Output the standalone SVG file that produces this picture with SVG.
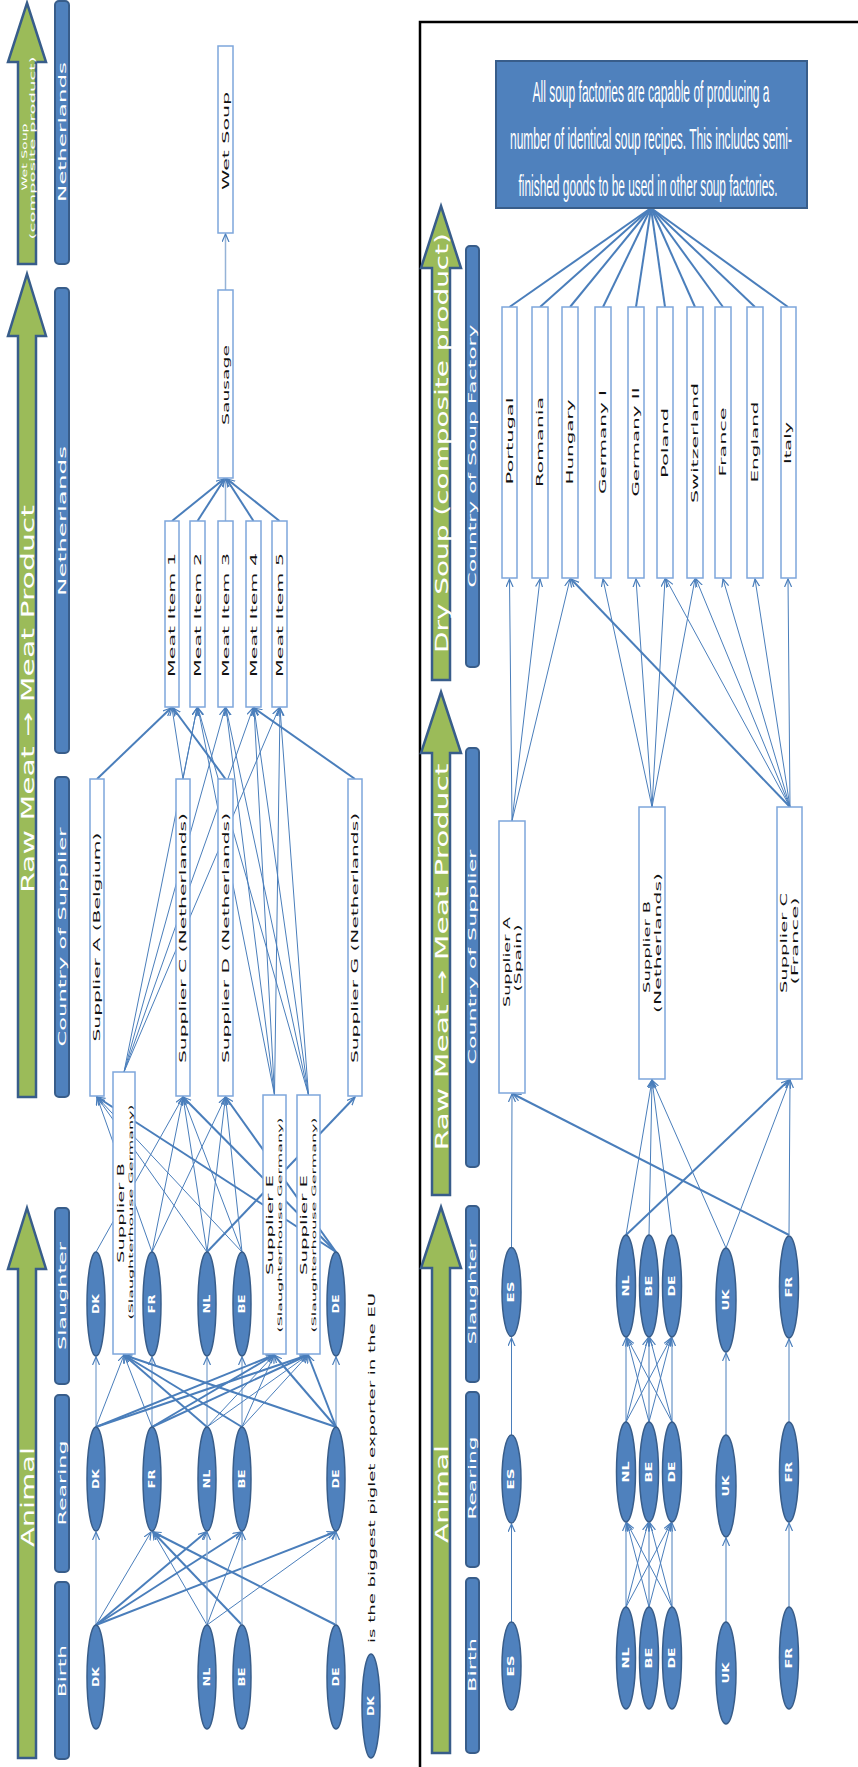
<svg xmlns="http://www.w3.org/2000/svg" width="858" height="1767" viewBox="0 0 858 1767">
<defs>
<marker id="ah" markerUnits="userSpaceOnUse" markerWidth="10" markerHeight="10" refX="8" refY="4" orient="auto"><path d="M0,0.5 L8,4 L0,7.5" fill="none" stroke="#4A7EBB" stroke-width="1.2"/></marker>
<style>
.bar{fill:#4F81BD;stroke:#385D8A;stroke-width:2}
.arr{fill:#9BBB59;stroke:#385D8A;stroke-width:2.5}
.box{fill:#fff;stroke:#7EA6DB;stroke-width:1.5}
.ell{fill:#4F81BD;stroke:#385D8A;stroke-width:1.5}
.wt{fill:#fff;font-family:"DejaVu Sans",sans-serif;font-weight:bold}
.wn{fill:#fff;font-family:"DejaVu Sans",sans-serif}
.bt{fill:#111;font-family:"DejaVu Sans",sans-serif}
.nt{fill:#fff;font-family:"Liberation Sans",sans-serif;font-size:11px}
.c1{stroke:#4A7EBB;stroke-width:1;fill:none;marker-end:url(#ah)}
.c2{stroke:#4A7EBB;stroke-width:2;fill:none;marker-end:url(#ah)}
.c0{stroke:#95B3D7;stroke-width:1.5;fill:none;marker-end:url(#ah)}
.cn{stroke:#4A7EBB;stroke-width:2;fill:none}
</style>
</defs>
<rect width="858" height="1767" fill="#fff"/>
<rect x="420" y="22" width="445" height="1760" fill="none" stroke="#000" stroke-width="2.5"/>

<g id="left-stages">
<path class="arr" d="M27,3 L46,62 L36,62 L36,264 L18,264 L18,62 L8,62 Z"/>
<text class="wn" font-size="7.5" transform="translate(24,157) rotate(-90)" text-anchor="middle" dominant-baseline="central" textLength="67" lengthAdjust="spacingAndGlyphs">Wet Soup</text>
<text class="wn" font-size="7.5" transform="translate(32.5,148) rotate(-90)" text-anchor="middle" dominant-baseline="central" textLength="183" lengthAdjust="spacingAndGlyphs">(composite product)</text>
<path class="arr" d="M27,274 L46,336 L36,336 L36,1097 L18,1097 L18,336 L8,336 Z"/>
<text class="wn" font-size="18" transform="translate(27,699) rotate(-90)" text-anchor="middle" dominant-baseline="central" textLength="388" lengthAdjust="spacingAndGlyphs">Raw Meat → Meat Product</text>
<path class="arr" d="M27,1208 L46,1269 L36,1269 L36,1758 L18,1758 L18,1269 L8,1269 Z"/>
<text class="wn" font-size="18" transform="translate(27,1497) rotate(-90)" text-anchor="middle" dominant-baseline="central" textLength="100" lengthAdjust="spacingAndGlyphs">Animal</text>
<rect class="bar" x="55" y="1" width="14" height="263" rx="4"/>
<text class="wn" font-size="11" transform="translate(62,132) rotate(-90)" text-anchor="middle" dominant-baseline="central" textLength="140" lengthAdjust="spacingAndGlyphs">Netherlands</text>
<rect class="bar" x="55" y="288" width="14" height="465" rx="4"/>
<text class="wn" font-size="11" transform="translate(62,521) rotate(-90)" text-anchor="middle" dominant-baseline="central" textLength="150" lengthAdjust="spacingAndGlyphs">Netherlands</text>
<rect class="bar" x="55" y="777" width="14" height="320" rx="4"/>
<text class="wn" font-size="11" transform="translate(62,937) rotate(-90)" text-anchor="middle" dominant-baseline="central" textLength="219" lengthAdjust="spacingAndGlyphs">Country of Supplier</text>
<rect class="bar" x="55" y="1208" width="14" height="176" rx="4"/>
<text class="wn" font-size="11" transform="translate(62,1296) rotate(-90)" text-anchor="middle" dominant-baseline="central" textLength="108" lengthAdjust="spacingAndGlyphs">Slaughter</text>
<rect class="bar" x="55" y="1395" width="14" height="177" rx="4"/>
<text class="wn" font-size="11" transform="translate(62,1483) rotate(-90)" text-anchor="middle" dominant-baseline="central" textLength="85" lengthAdjust="spacingAndGlyphs">Rearing</text>
<rect class="bar" x="55" y="1582" width="14" height="177" rx="4"/>
<text class="wn" font-size="11" transform="translate(62,1671) rotate(-90)" text-anchor="middle" dominant-baseline="central" textLength="52" lengthAdjust="spacingAndGlyphs">Birth</text>
</g>

<g id="left-connectors">
<line class="c0" x1="225.5" y1="290" x2="225.5" y2="234"/>
<line class="c2" x1="172" y1="521" x2="224" y2="479"/>
<line class="c2" x1="197.5" y1="521" x2="224.5" y2="479"/>
<line class="c0" x1="225.5" y1="521" x2="225.5" y2="479"/>
<line class="c2" x1="253.5" y1="521" x2="226.5" y2="479"/>
<line class="c2" x1="279.5" y1="521" x2="227" y2="479"/>
<line class="c2" x1="97" y1="779" x2="171" y2="708"/>
<line class="c2" x1="225.5" y1="779" x2="173" y2="708"/>
<line class="c2" x1="355" y1="779" x2="254" y2="708"/>
<line class="c1" x1="183" y1="779" x2="172" y2="708"/>
<line class="c1" x1="183" y1="779" x2="197" y2="708"/>
<line class="c1" x1="124" y1="1072" x2="197" y2="708"/>
<line class="c1" x1="124" y1="1072" x2="225" y2="708"/>
<line class="c1" x1="124" y1="1072" x2="253" y2="708"/>
<line class="c1" x1="124" y1="1072" x2="279" y2="708"/>
<line class="c1" x1="274.5" y1="1095" x2="198" y2="708"/>
<line class="c1" x1="274.5" y1="1095" x2="226" y2="708"/>
<line class="c1" x1="274.5" y1="1095" x2="254" y2="708"/>
<line class="c1" x1="274.5" y1="1095" x2="280" y2="708"/>
<line class="c1" x1="308.5" y1="1095" x2="198" y2="708"/>
<line class="c1" x1="308.5" y1="1095" x2="226" y2="708"/>
<line class="c1" x1="308.5" y1="1095" x2="254" y2="708"/>
<line class="c1" x1="308.5" y1="1095" x2="280" y2="708"/>
<line class="c1" x1="152" y1="1252" x2="97" y2="1097"/>
<line class="c1" x1="207" y1="1252" x2="97" y2="1097"/>
<line class="c1" x1="242" y1="1252" x2="97" y2="1097"/>
<line class="c2" x1="336" y1="1252" x2="97" y2="1097"/>
<line class="c1" x1="96" y1="1252" x2="183" y2="1097"/>
<line class="c1" x1="152" y1="1252" x2="183" y2="1097"/>
<line class="c1" x1="207" y1="1252" x2="183" y2="1097"/>
<line class="c1" x1="242" y1="1252" x2="183" y2="1097"/>
<line class="c2" x1="336" y1="1252" x2="183" y2="1097"/>
<line class="c1" x1="152" y1="1252" x2="225.5" y2="1097"/>
<line class="c1" x1="207" y1="1252" x2="225.5" y2="1097"/>
<line class="c1" x1="242" y1="1252" x2="225.5" y2="1097"/>
<line class="c2" x1="336" y1="1252" x2="225.5" y2="1097"/>
<line class="c2" x1="207" y1="1252" x2="355" y2="1097"/>
<line class="c0" x1="96" y1="1427" x2="96" y2="1357"/>
<line class="c0" x1="152" y1="1427" x2="152" y2="1357"/>
<line class="c0" x1="207" y1="1427" x2="207" y2="1357"/>
<line class="c0" x1="242" y1="1427" x2="242" y2="1357"/>
<line class="c0" x1="336" y1="1427" x2="336" y2="1357"/>
<line class="c1" x1="96" y1="1427" x2="124" y2="1355"/>
<line class="c1" x1="152" y1="1427" x2="124" y2="1355"/>
<line class="c2" x1="207" y1="1427" x2="124" y2="1355"/>
<line class="c2" x1="242" y1="1427" x2="124" y2="1355"/>
<line class="c2" x1="336" y1="1427" x2="124" y2="1355"/>
<line class="c2" x1="96" y1="1427" x2="274" y2="1355"/>
<line class="c2" x1="96" y1="1427" x2="308" y2="1355"/>
<line class="c2" x1="152" y1="1427" x2="274" y2="1355"/>
<line class="c2" x1="152" y1="1427" x2="308" y2="1355"/>
<line class="c1" x1="207" y1="1427" x2="274" y2="1355"/>
<line class="c1" x1="207" y1="1427" x2="308" y2="1355"/>
<line class="c1" x1="242" y1="1427" x2="274" y2="1355"/>
<line class="c1" x1="242" y1="1427" x2="308" y2="1355"/>
<line class="c2" x1="336" y1="1427" x2="274" y2="1355"/>
<line class="c2" x1="336" y1="1427" x2="308" y2="1355"/>
<line class="c0" x1="96" y1="1625" x2="96" y2="1532"/>
<line class="c1" x1="96" y1="1625" x2="151" y2="1532"/>
<line class="c2" x1="96" y1="1625" x2="206" y2="1532"/>
<line class="c2" x1="96" y1="1625" x2="241" y2="1532"/>
<line class="c2" x1="96" y1="1625" x2="335" y2="1532"/>
<line class="c1" x1="207" y1="1625" x2="153" y2="1532"/>
<line class="c0" x1="207" y1="1625" x2="207" y2="1532"/>
<line class="c1" x1="207" y1="1625" x2="242" y2="1532"/>
<line class="c1" x1="207" y1="1625" x2="336" y2="1532"/>
<line class="c2" x1="242" y1="1625" x2="153" y2="1532"/>
<line class="c0" x1="242" y1="1625" x2="242" y2="1532"/>
<line class="c2" x1="336" y1="1625" x2="153" y2="1532"/>
<line class="c0" x1="336" y1="1625" x2="336" y2="1532"/>
</g>

<g id="n-wetsoup"><rect class="box" x="218" y="46" width="15" height="187"/><text class="bt" font-size="8" transform="translate(226.5,141) rotate(-90)" text-anchor="middle" dominant-baseline="central" textLength="98" lengthAdjust="spacingAndGlyphs">Wet Soup</text></g>
<g id="n-sausage"><rect class="box" x="218" y="290" width="15" height="188"/><text class="bt" font-size="8" transform="translate(226.5,385) rotate(-90)" text-anchor="middle" dominant-baseline="central" textLength="80" lengthAdjust="spacingAndGlyphs">Sausage</text></g>
<g id="n-meat1"><rect class="box" x="165" y="521" width="14" height="186"/><text class="bt" font-size="8" transform="translate(172.5,615) rotate(-90)" text-anchor="middle" dominant-baseline="central" textLength="124" lengthAdjust="spacingAndGlyphs">Meat Item 1</text></g>
<g id="n-meat2"><rect class="box" x="190" y="521" width="15" height="186"/><text class="bt" font-size="8" transform="translate(198,615) rotate(-90)" text-anchor="middle" dominant-baseline="central" textLength="124" lengthAdjust="spacingAndGlyphs">Meat Item 2</text></g>
<g id="n-meat3"><rect class="box" x="218" y="521" width="15" height="186"/><text class="bt" font-size="8" transform="translate(226,615) rotate(-90)" text-anchor="middle" dominant-baseline="central" textLength="124" lengthAdjust="spacingAndGlyphs">Meat Item 3</text></g>
<g id="n-meat4"><rect class="box" x="246" y="521" width="15" height="186"/><text class="bt" font-size="8" transform="translate(254,615) rotate(-90)" text-anchor="middle" dominant-baseline="central" textLength="124" lengthAdjust="spacingAndGlyphs">Meat Item 4</text></g>
<g id="n-meat5"><rect class="box" x="272" y="521" width="15" height="186"/><text class="bt" font-size="8" transform="translate(280,615) rotate(-90)" text-anchor="middle" dominant-baseline="central" textLength="124" lengthAdjust="spacingAndGlyphs">Meat Item 5</text></g>
<g id="n-supA"><rect class="box" x="90" y="779" width="14" height="317"/><text class="bt" font-size="8" transform="translate(97.5,937) rotate(-90)" text-anchor="middle" dominant-baseline="central" textLength="209" lengthAdjust="spacingAndGlyphs">Supplier A (Belgium)</text></g>
<g id="n-supC"><rect class="box" x="176" y="779" width="14" height="317"/><text class="bt" font-size="8" transform="translate(183.5,938) rotate(-90)" text-anchor="middle" dominant-baseline="central" textLength="250" lengthAdjust="spacingAndGlyphs">Supplier C (Netherlands)</text></g>
<g id="n-supD"><rect class="box" x="218" y="779" width="15" height="317"/><text class="bt" font-size="8" transform="translate(226,938) rotate(-90)" text-anchor="middle" dominant-baseline="central" textLength="250" lengthAdjust="spacingAndGlyphs">Supplier D (Netherlands)</text></g>
<g id="n-supG"><rect class="box" x="348" y="779" width="14" height="317"/><text class="bt" font-size="8" transform="translate(355.5,938) rotate(-90)" text-anchor="middle" dominant-baseline="central" textLength="250" lengthAdjust="spacingAndGlyphs">Supplier G (Netherlands)</text></g>
<g id="n-supB"><rect class="box" x="113" y="1072" width="22" height="282"/><text class="bt" font-size="8" transform="translate(121.5,1213) rotate(-90)" text-anchor="middle" dominant-baseline="central" textLength="100" lengthAdjust="spacingAndGlyphs">Supplier B</text><text class="bt" font-size="6" transform="translate(130,1212) rotate(-90)" text-anchor="middle" dominant-baseline="central" textLength="215" lengthAdjust="spacingAndGlyphs">(Slaughterhouse Germany)</text></g>
<g id="n-supE1"><rect class="box" x="263" y="1095" width="23" height="259"/><text class="bt" font-size="8" transform="translate(270.5,1225) rotate(-90)" text-anchor="middle" dominant-baseline="central" textLength="100" lengthAdjust="spacingAndGlyphs">Supplier E</text><text class="bt" font-size="6" transform="translate(279,1225) rotate(-90)" text-anchor="middle" dominant-baseline="central" textLength="215" lengthAdjust="spacingAndGlyphs">(Slaughterhouse Germany)</text></g>
<g id="n-supE2"><rect class="box" x="297" y="1095" width="23" height="259"/><text class="bt" font-size="8" transform="translate(304.5,1225) rotate(-90)" text-anchor="middle" dominant-baseline="central" textLength="100" lengthAdjust="spacingAndGlyphs">Supplier E</text><text class="bt" font-size="6" transform="translate(313,1225) rotate(-90)" text-anchor="middle" dominant-baseline="central" textLength="215" lengthAdjust="spacingAndGlyphs">(Slaughterhouse Germany)</text></g>

<g id="n-sl-dk"><ellipse class="ell" cx="96" cy="1304" rx="9" ry="52"/><text class="wt" font-size="8" transform="translate(96,1304) rotate(-90)" text-anchor="middle" dominant-baseline="central" textLength="20" lengthAdjust="spacingAndGlyphs">DK</text></g>
<g id="n-sl-fr"><ellipse class="ell" cx="152" cy="1304" rx="9" ry="52"/><text class="wt" font-size="8" transform="translate(152,1304) rotate(-90)" text-anchor="middle" dominant-baseline="central" textLength="19" lengthAdjust="spacingAndGlyphs">FR</text></g>
<g id="n-sl-nl"><ellipse class="ell" cx="207" cy="1304" rx="9" ry="52"/><text class="wt" font-size="8" transform="translate(207,1304) rotate(-90)" text-anchor="middle" dominant-baseline="central" textLength="19" lengthAdjust="spacingAndGlyphs">NL</text></g>
<g id="n-sl-be"><ellipse class="ell" cx="242" cy="1304" rx="9" ry="52"/><text class="wt" font-size="8" transform="translate(242,1304) rotate(-90)" text-anchor="middle" dominant-baseline="central" textLength="19" lengthAdjust="spacingAndGlyphs">BE</text></g>
<g id="n-sl-de"><ellipse class="ell" cx="336" cy="1304" rx="9" ry="52"/><text class="wt" font-size="8" transform="translate(336,1304) rotate(-90)" text-anchor="middle" dominant-baseline="central" textLength="19" lengthAdjust="spacingAndGlyphs">DE</text></g>
<g id="n-re-dk"><ellipse class="ell" cx="96" cy="1479" rx="9" ry="52"/><text class="wt" font-size="8" transform="translate(96,1479) rotate(-90)" text-anchor="middle" dominant-baseline="central" textLength="20" lengthAdjust="spacingAndGlyphs">DK</text></g>
<g id="n-re-fr"><ellipse class="ell" cx="152" cy="1479" rx="9" ry="52"/><text class="wt" font-size="8" transform="translate(152,1479) rotate(-90)" text-anchor="middle" dominant-baseline="central" textLength="19" lengthAdjust="spacingAndGlyphs">FR</text></g>
<g id="n-re-nl"><ellipse class="ell" cx="207" cy="1479" rx="9" ry="52"/><text class="wt" font-size="8" transform="translate(207,1479) rotate(-90)" text-anchor="middle" dominant-baseline="central" textLength="19" lengthAdjust="spacingAndGlyphs">NL</text></g>
<g id="n-re-be"><ellipse class="ell" cx="242" cy="1479" rx="9" ry="52"/><text class="wt" font-size="8" transform="translate(242,1479) rotate(-90)" text-anchor="middle" dominant-baseline="central" textLength="19" lengthAdjust="spacingAndGlyphs">BE</text></g>
<g id="n-re-de"><ellipse class="ell" cx="336" cy="1479" rx="9" ry="52"/><text class="wt" font-size="8" transform="translate(336,1479) rotate(-90)" text-anchor="middle" dominant-baseline="central" textLength="19" lengthAdjust="spacingAndGlyphs">DE</text></g>
<g id="n-bi-dk"><ellipse class="ell" cx="96" cy="1677" rx="9" ry="52"/><text class="wt" font-size="8" transform="translate(96,1677) rotate(-90)" text-anchor="middle" dominant-baseline="central" textLength="20" lengthAdjust="spacingAndGlyphs">DK</text></g>
<g id="n-bi-nl"><ellipse class="ell" cx="207" cy="1677" rx="9" ry="52"/><text class="wt" font-size="8" transform="translate(207,1677) rotate(-90)" text-anchor="middle" dominant-baseline="central" textLength="19" lengthAdjust="spacingAndGlyphs">NL</text></g>
<g id="n-bi-be"><ellipse class="ell" cx="242" cy="1677" rx="9" ry="52"/><text class="wt" font-size="8" transform="translate(242,1677) rotate(-90)" text-anchor="middle" dominant-baseline="central" textLength="19" lengthAdjust="spacingAndGlyphs">BE</text></g>
<g id="n-bi-de"><ellipse class="ell" cx="336" cy="1677" rx="9" ry="52"/><text class="wt" font-size="8" transform="translate(336,1677) rotate(-90)" text-anchor="middle" dominant-baseline="central" textLength="19" lengthAdjust="spacingAndGlyphs">DE</text></g>
<g id="legend"><ellipse class="ell" cx="371" cy="1706" rx="9" ry="52"/><text class="wt" font-size="8" transform="translate(371,1706) rotate(-90)" text-anchor="middle" dominant-baseline="central" textLength="20" lengthAdjust="spacingAndGlyphs">DK</text><text class="bt" font-size="8" transform="translate(372,1468) rotate(-90)" text-anchor="middle" dominant-baseline="central" textLength="350" lengthAdjust="spacingAndGlyphs">is the biggest piglet exporter in the EU</text></g>

<g id="right-stages">
<path class="arr" d="M441,206 L461,268 L450,268 L450,680 L432,680 L432,268 L421,268 Z"/>
<text class="wn" font-size="18" transform="translate(441,443) rotate(-90)" text-anchor="middle" dominant-baseline="central" textLength="420" lengthAdjust="spacingAndGlyphs">Dry Soup (composite product)</text>
<path class="arr" d="M441,692 L461,753 L450,753 L450,1195 L432,1195 L432,753 L421,753 Z"/>
<text class="wn" font-size="18" transform="translate(441,957) rotate(-90)" text-anchor="middle" dominant-baseline="central" textLength="387" lengthAdjust="spacingAndGlyphs">Raw Meat → Meat Product</text>
<path class="arr" d="M441,1207 L461,1268 L450,1268 L450,1753 L432,1753 L432,1268 L421,1268 Z"/>
<text class="wn" font-size="18" transform="translate(441,1494) rotate(-90)" text-anchor="middle" dominant-baseline="central" textLength="98" lengthAdjust="spacingAndGlyphs">Animal</text>
<rect class="bar" x="466" y="246" width="13" height="421" rx="4"/>
<text class="wn" font-size="11" transform="translate(472.5,456) rotate(-90)" text-anchor="middle" dominant-baseline="central" textLength="263" lengthAdjust="spacingAndGlyphs">Country of Soup Factory</text>
<rect class="bar" x="466" y="748" width="13" height="419" rx="4"/>
<text class="wn" font-size="11" transform="translate(472.5,957) rotate(-90)" text-anchor="middle" dominant-baseline="central" textLength="215" lengthAdjust="spacingAndGlyphs">Country of Supplier</text>
<rect class="bar" x="466" y="1206" width="13" height="176" rx="4"/>
<text class="wn" font-size="11" transform="translate(472.5,1292) rotate(-90)" text-anchor="middle" dominant-baseline="central" textLength="105" lengthAdjust="spacingAndGlyphs">Slaughter</text>
<rect class="bar" x="466" y="1392" width="13" height="175" rx="4"/>
<text class="wn" font-size="11" transform="translate(472.5,1478) rotate(-90)" text-anchor="middle" dominant-baseline="central" textLength="83" lengthAdjust="spacingAndGlyphs">Rearing</text>
<rect class="bar" x="466" y="1578" width="13" height="175" rx="4"/>
<text class="wn" font-size="11" transform="translate(472.5,1665) rotate(-90)" text-anchor="middle" dominant-baseline="central" textLength="54" lengthAdjust="spacingAndGlyphs">Birth</text>
</g>

<g id="right-connectors">
<line class="cn" x1="651" y1="208" x2="509.5" y2="307"/>
<line class="cn" x1="651" y1="208" x2="540" y2="307"/>
<line class="cn" x1="651" y1="208" x2="570" y2="307"/>
<line class="cn" x1="651" y1="208" x2="603" y2="307"/>
<line class="cn" x1="651" y1="208" x2="636" y2="307"/>
<line class="cn" x1="651" y1="208" x2="665" y2="307"/>
<line class="cn" x1="651" y1="208" x2="695" y2="307"/>
<line class="cn" x1="651" y1="208" x2="723" y2="307"/>
<line class="cn" x1="651" y1="208" x2="755" y2="307"/>
<line class="cn" x1="651" y1="208" x2="788" y2="307"/>
<line class="c1" x1="512" y1="821" x2="509.5" y2="579"/>
<line class="c1" x1="512" y1="821" x2="540" y2="579"/>
<line class="c1" x1="512" y1="821" x2="570" y2="579"/>
<line class="c1" x1="652" y1="807" x2="603" y2="579"/>
<line class="c1" x1="652" y1="807" x2="636" y2="579"/>
<line class="c1" x1="652" y1="807" x2="665" y2="579"/>
<line class="c1" x1="652" y1="807" x2="695" y2="579"/>
<line class="c2" x1="790" y1="807" x2="571" y2="579"/>
<line class="c1" x1="790" y1="807" x2="666" y2="579"/>
<line class="c1" x1="790" y1="807" x2="696" y2="579"/>
<line class="c1" x1="790" y1="807" x2="723" y2="579"/>
<line class="c1" x1="790" y1="807" x2="755" y2="579"/>
<line class="c1" x1="790" y1="807" x2="788" y2="579"/>
<line class="c1" x1="511.5" y1="1248" x2="512" y2="1094"/>
<line class="c2" x1="789" y1="1235" x2="513" y2="1094"/>
<line class="c1" x1="626" y1="1235" x2="652" y2="1080"/>
<line class="c1" x1="649" y1="1235" x2="652" y2="1080"/>
<line class="c1" x1="672" y1="1235" x2="652" y2="1080"/>
<line class="c1" x1="726" y1="1248" x2="652" y2="1080"/>
<line class="c2" x1="626" y1="1235" x2="789" y2="1080"/>
<line class="c1" x1="726" y1="1248" x2="790" y2="1080"/>
<line class="c1" x1="789" y1="1235" x2="790" y2="1080"/>
<line class="c1" x1="511.5" y1="1435" x2="511.5" y2="1338"/>
<line class="c1" x1="726" y1="1435" x2="726" y2="1353"/>
<line class="c1" x1="789" y1="1422" x2="789" y2="1339"/>
<line class="c1" x1="626" y1="1422" x2="626" y2="1338"/>
<line class="c1" x1="626" y1="1422" x2="648" y2="1338"/>
<line class="c1" x1="626" y1="1422" x2="671" y2="1338"/>
<line class="c1" x1="649" y1="1422" x2="627" y2="1338"/>
<line class="c1" x1="649" y1="1422" x2="649" y2="1338"/>
<line class="c1" x1="649" y1="1422" x2="671" y2="1338"/>
<line class="c1" x1="672" y1="1422" x2="627" y2="1338"/>
<line class="c1" x1="672" y1="1422" x2="650" y2="1338"/>
<line class="c1" x1="672" y1="1422" x2="672" y2="1338"/>
<line class="c1" x1="511.5" y1="1622" x2="511.5" y2="1524"/>
<line class="c1" x1="726" y1="1622" x2="726" y2="1538"/>
<line class="c1" x1="789" y1="1607" x2="789" y2="1523"/>
<line class="c1" x1="626" y1="1607" x2="626" y2="1523"/>
<line class="c1" x1="626" y1="1607" x2="648" y2="1523"/>
<line class="c1" x1="626" y1="1607" x2="671" y2="1523"/>
<line class="c1" x1="649" y1="1607" x2="627" y2="1523"/>
<line class="c1" x1="649" y1="1607" x2="649" y2="1523"/>
<line class="c1" x1="649" y1="1607" x2="671" y2="1523"/>
<line class="c1" x1="672" y1="1607" x2="627" y2="1523"/>
<line class="c1" x1="672" y1="1607" x2="650" y2="1523"/>
<line class="c1" x1="672" y1="1607" x2="672" y2="1523"/>
</g>

<g id="n-note"><rect x="496" y="61" width="311" height="147" fill="#4F81BD" stroke="#385D8A" stroke-width="2"/>
<g transform="translate(651,102) scale(1,2.7)"><text class="nt" x="0" y="0" text-anchor="middle" textLength="237" lengthAdjust="spacingAndGlyphs">All soup factories are capable of producing a</text></g>
<g transform="translate(651,149) scale(1,2.7)"><text class="nt" x="0" y="0" text-anchor="middle" textLength="282" lengthAdjust="spacingAndGlyphs">number of identical soup recipes. This includes semi-</text></g>
<g transform="translate(648,196) scale(1,2.7)"><text class="nt" x="0" y="0" text-anchor="middle" textLength="259" lengthAdjust="spacingAndGlyphs">finished goods to be used in other soup factories.</text></g></g>
<g id="n-portugal"><rect class="box" x="502" y="307" width="15" height="271"/><text class="bt" font-size="8" transform="translate(510,441) rotate(-90)" text-anchor="middle" dominant-baseline="central" textLength="87" lengthAdjust="spacingAndGlyphs">Portugal</text></g>
<g id="n-romania"><rect class="box" x="532" y="307" width="16" height="271"/><text class="bt" font-size="8" transform="translate(540.5,442) rotate(-90)" text-anchor="middle" dominant-baseline="central" textLength="90" lengthAdjust="spacingAndGlyphs">Romania</text></g>
<g id="n-hungary"><rect class="box" x="562" y="307" width="16" height="271"/><text class="bt" font-size="8" transform="translate(570.5,442) rotate(-90)" text-anchor="middle" dominant-baseline="central" textLength="85" lengthAdjust="spacingAndGlyphs">Hungary</text></g>
<g id="n-germany1"><rect class="box" x="595" y="307" width="16" height="271"/><text class="bt" font-size="8" transform="translate(603.5,442) rotate(-90)" text-anchor="middle" dominant-baseline="central" textLength="104" lengthAdjust="spacingAndGlyphs">Germany I</text></g>
<g id="n-germany2"><rect class="box" x="628" y="307" width="16" height="271"/><text class="bt" font-size="8" transform="translate(636.5,442) rotate(-90)" text-anchor="middle" dominant-baseline="central" textLength="109" lengthAdjust="spacingAndGlyphs">Germany II</text></g>
<g id="n-poland"><rect class="box" x="657" y="307" width="16" height="271"/><text class="bt" font-size="8" transform="translate(665.5,443) rotate(-90)" text-anchor="middle" dominant-baseline="central" textLength="70" lengthAdjust="spacingAndGlyphs">Poland</text></g>
<g id="n-switzerland"><rect class="box" x="687" y="307" width="16" height="271"/><text class="bt" font-size="8" transform="translate(695.5,443) rotate(-90)" text-anchor="middle" dominant-baseline="central" textLength="120" lengthAdjust="spacingAndGlyphs">Switzerland</text></g>
<g id="n-france"><rect class="box" x="715" y="307" width="16" height="271"/><text class="bt" font-size="8" transform="translate(723.5,442) rotate(-90)" text-anchor="middle" dominant-baseline="central" textLength="69" lengthAdjust="spacingAndGlyphs">France</text></g>
<g id="n-england"><rect class="box" x="747" y="307" width="16" height="271"/><text class="bt" font-size="8" transform="translate(755.5,442) rotate(-90)" text-anchor="middle" dominant-baseline="central" textLength="81" lengthAdjust="spacingAndGlyphs">England</text></g>
<g id="n-italy"><rect class="box" x="781" y="307" width="15" height="271"/><text class="bt" font-size="8" transform="translate(788.5,443) rotate(-90)" text-anchor="middle" dominant-baseline="central" textLength="42" lengthAdjust="spacingAndGlyphs">Italy</text></g>
<g id="n-rsupA"><rect class="box" x="499" y="821" width="26" height="272"/><text class="bt" font-size="8" transform="translate(507,962) rotate(-90)" text-anchor="middle" dominant-baseline="central" textLength="90" lengthAdjust="spacingAndGlyphs">Supplier A</text><text class="bt" font-size="8" transform="translate(518,958) rotate(-90)" text-anchor="middle" dominant-baseline="central" textLength="67" lengthAdjust="spacingAndGlyphs">(Spain)</text></g>
<g id="n-rsupB"><rect class="box" x="639" y="807" width="26" height="272"/><text class="bt" font-size="8" transform="translate(647,947) rotate(-90)" text-anchor="middle" dominant-baseline="central" textLength="92" lengthAdjust="spacingAndGlyphs">Supplier B</text><text class="bt" font-size="8" transform="translate(658,943) rotate(-90)" text-anchor="middle" dominant-baseline="central" textLength="140" lengthAdjust="spacingAndGlyphs">(Netherlands)</text></g>
<g id="n-rsupC"><rect class="box" x="777" y="807" width="25" height="272"/><text class="bt" font-size="8" transform="translate(784,943) rotate(-90)" text-anchor="middle" dominant-baseline="central" textLength="100" lengthAdjust="spacingAndGlyphs">Supplier C</text><text class="bt" font-size="8" transform="translate(795,941) rotate(-90)" text-anchor="middle" dominant-baseline="central" textLength="87" lengthAdjust="spacingAndGlyphs">(France)</text></g>

<g id="n-rsl-es"><ellipse class="ell" cx="511.5" cy="1292" rx="9.5" ry="44.5"/><text class="wt" font-size="8" transform="translate(511.5,1292) rotate(-90)" text-anchor="middle" dominant-baseline="central" textLength="21" lengthAdjust="spacingAndGlyphs">ES</text></g>
<g id="n-rsl-nl"><ellipse class="ell" cx="626" cy="1286" rx="9.5" ry="51"/><text class="wt" font-size="8" transform="translate(626,1286) rotate(-90)" text-anchor="middle" dominant-baseline="central" textLength="21" lengthAdjust="spacingAndGlyphs">NL</text></g>
<g id="n-rsl-be"><ellipse class="ell" cx="649" cy="1286" rx="9.5" ry="51"/><text class="wt" font-size="8" transform="translate(649,1286) rotate(-90)" text-anchor="middle" dominant-baseline="central" textLength="21" lengthAdjust="spacingAndGlyphs">BE</text></g>
<g id="n-rsl-de"><ellipse class="ell" cx="672" cy="1286" rx="9.5" ry="51"/><text class="wt" font-size="8" transform="translate(672,1286) rotate(-90)" text-anchor="middle" dominant-baseline="central" textLength="21" lengthAdjust="spacingAndGlyphs">DE</text></g>
<g id="n-rsl-uk"><ellipse class="ell" cx="726" cy="1300" rx="10" ry="52"/><text class="wt" font-size="8" transform="translate(726,1300) rotate(-90)" text-anchor="middle" dominant-baseline="central" textLength="21" lengthAdjust="spacingAndGlyphs">UK</text></g>
<g id="n-rsl-fr"><ellipse class="ell" cx="789" cy="1287" rx="9.5" ry="51"/><text class="wt" font-size="8" transform="translate(789,1287) rotate(-90)" text-anchor="middle" dominant-baseline="central" textLength="21" lengthAdjust="spacingAndGlyphs">FR</text></g>
<g id="n-rre-es"><ellipse class="ell" cx="511.5" cy="1479" rx="9.5" ry="44"/><text class="wt" font-size="8" transform="translate(511.5,1479) rotate(-90)" text-anchor="middle" dominant-baseline="central" textLength="21" lengthAdjust="spacingAndGlyphs">ES</text></g>
<g id="n-rre-nl"><ellipse class="ell" cx="626" cy="1472" rx="9.5" ry="50"/><text class="wt" font-size="8" transform="translate(626,1472) rotate(-90)" text-anchor="middle" dominant-baseline="central" textLength="21" lengthAdjust="spacingAndGlyphs">NL</text></g>
<g id="n-rre-be"><ellipse class="ell" cx="649" cy="1472" rx="9.5" ry="50"/><text class="wt" font-size="8" transform="translate(649,1472) rotate(-90)" text-anchor="middle" dominant-baseline="central" textLength="21" lengthAdjust="spacingAndGlyphs">BE</text></g>
<g id="n-rre-de"><ellipse class="ell" cx="672" cy="1472" rx="9.5" ry="50"/><text class="wt" font-size="8" transform="translate(672,1472) rotate(-90)" text-anchor="middle" dominant-baseline="central" textLength="21" lengthAdjust="spacingAndGlyphs">DE</text></g>
<g id="n-rre-uk"><ellipse class="ell" cx="726" cy="1486" rx="10" ry="51"/><text class="wt" font-size="8" transform="translate(726,1486) rotate(-90)" text-anchor="middle" dominant-baseline="central" textLength="21" lengthAdjust="spacingAndGlyphs">UK</text></g>
<g id="n-rre-fr"><ellipse class="ell" cx="789" cy="1472" rx="9.5" ry="50"/><text class="wt" font-size="8" transform="translate(789,1472) rotate(-90)" text-anchor="middle" dominant-baseline="central" textLength="21" lengthAdjust="spacingAndGlyphs">FR</text></g>
<g id="n-rbi-es"><ellipse class="ell" cx="511.5" cy="1666" rx="9.5" ry="44"/><text class="wt" font-size="8" transform="translate(511.5,1666) rotate(-90)" text-anchor="middle" dominant-baseline="central" textLength="21" lengthAdjust="spacingAndGlyphs">ES</text></g>
<g id="n-rbi-nl"><ellipse class="ell" cx="626" cy="1658" rx="9.5" ry="51"/><text class="wt" font-size="8" transform="translate(626,1658) rotate(-90)" text-anchor="middle" dominant-baseline="central" textLength="21" lengthAdjust="spacingAndGlyphs">NL</text></g>
<g id="n-rbi-be"><ellipse class="ell" cx="649" cy="1658" rx="9.5" ry="51"/><text class="wt" font-size="8" transform="translate(649,1658) rotate(-90)" text-anchor="middle" dominant-baseline="central" textLength="21" lengthAdjust="spacingAndGlyphs">BE</text></g>
<g id="n-rbi-de"><ellipse class="ell" cx="672" cy="1658" rx="9.5" ry="51"/><text class="wt" font-size="8" transform="translate(672,1658) rotate(-90)" text-anchor="middle" dominant-baseline="central" textLength="21" lengthAdjust="spacingAndGlyphs">DE</text></g>
<g id="n-rbi-uk"><ellipse class="ell" cx="726" cy="1673" rx="10" ry="51"/><text class="wt" font-size="8" transform="translate(726,1673) rotate(-90)" text-anchor="middle" dominant-baseline="central" textLength="21" lengthAdjust="spacingAndGlyphs">UK</text></g>
<g id="n-rbi-fr"><ellipse class="ell" cx="789" cy="1658" rx="9.5" ry="51"/><text class="wt" font-size="8" transform="translate(789,1658) rotate(-90)" text-anchor="middle" dominant-baseline="central" textLength="21" lengthAdjust="spacingAndGlyphs">FR</text></g>
</svg>
